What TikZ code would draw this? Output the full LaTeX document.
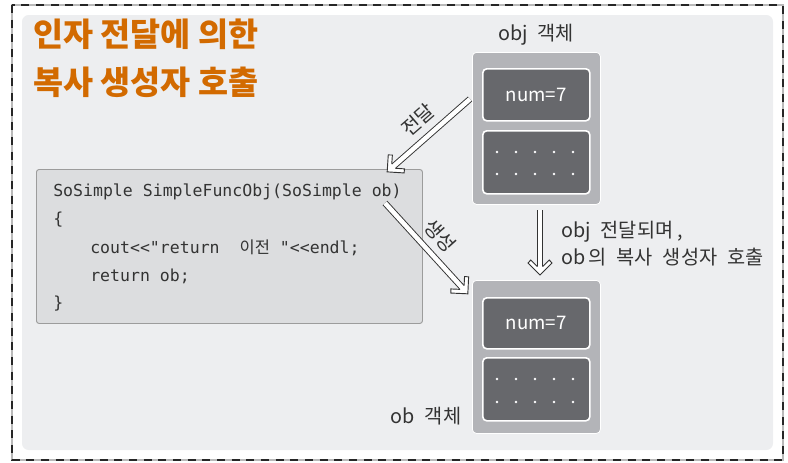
\documentclass[tikz,border=0pt]{standalone}
\usepackage{fontspec}
\setmainfont{Noto Sans CJK KR}
\newfontfamily\codefont{DejaVu Sans Mono}
\newfontfamily\cjk{Noto Sans CJK KR}
\usetikzlibrary{arrows.meta,decorations.markings}
\definecolor{titleor}{HTML}{D26A00}
\definecolor{panelbg}{HTML}{EDEEF0}
\definecolor{boxgray}{HTML}{B3B4B8}
\definecolor{boxdark}{HTML}{67686C}
\definecolor{codebg}{HTML}{DCDDDF}
\definecolor{codeline}{HTML}{9C9C9C}
\definecolor{txt}{HTML}{333333}
\tikzset{
  outerbox/.style={fill=boxgray, draw=white, line width=0.6pt, rounded corners=3pt, anchor=north west,
    minimum width=128*0.75pt, minimum height=152*0.75pt, inner sep=0pt},
  innerbox/.style={fill=boxdark, draw=white, line width=1.2pt, rounded corners=3pt, anchor=north west,
    minimum width=107*0.75pt, inner sep=0pt, text=white, font=\fontsize{14}{16}\selectfont},
  codebox/.style={fill=codebg, draw=codeline, line width=0.7pt, rounded corners=2pt, anchor=north west,
    minimum width=386*0.75pt, minimum height=154*0.75pt, inner sep=0pt},
  codetxt/.style={anchor=west, inner sep=0pt, text=txt, font=\codefont\fontsize{12.4}{14}\selectfont},
  titletxt/.style={anchor=west, inner sep=0pt, text=titleor, font=\bfseries\fontsize{24.5}{27}\selectfont},
  lbl/.style={inner sep=0pt, text=txt, font=\fontsize{14.8}{17}\selectfont},
  hollowshaft/.style={draw=txt, line width=0.7pt, double=white, double distance=3.4pt, shorten >=6pt},
  hollowhead/.style={decoration={markings, mark=at position 1 with {
      \fill[white] (-8.5,2.7) -- (-15,9.2) -- (-12,12) -- (0,0) -- (-12,-12) -- (-15,-9.2) -- (-8.5,-2.7) -- cycle;
      \draw[txt, line width=0.7pt, line join=miter] (-8.5,2.7) -- (-15,9.2) -- (-12,12) -- (0,0) -- (-12,-12) -- (-15,-9.2) -- (-8.5,-2.7);
    }}, decorate},
  dot/.style={fill=white, draw=none},
}
\begin{document}
\begin{tikzpicture}[x=0.75pt,y=-0.75pt]
\useasboundingbox (0,0) rectangle (788,462);
% frame
\draw[gray!55, line width=1pt] (12,5) rectangle (783,460);
\draw[black!85, line width=1.6pt, dash pattern=on 6pt off 5pt] (12,5) rectangle (783,460);
\fill[panelbg, rounded corners=5pt] (22,15) rectangle (773,450);
% title
\node[titletxt] (t1) at (33,34) {인자 전달에 의한};
\node[titletxt] (t2) at (33,82) {복사 생성자 호출};
% obj
\node[lbl] (objlbl) at (536,35) {obj\enspace 객체};
\node[outerbox] (objA) at (472,52) {};
\node[innerbox, minimum height=52*0.75pt] (numA) at (482,68) {num=7};
\node[innerbox, minimum height=63*0.75pt] (dotsA) at (482,130) {};
\foreach \xx in {497,516,535,554,573}{
  \foreach \yy in {152,174}{
    \fill[dot] (\xx,\yy) circle (1.3);
  }
}
% ob
\node[outerbox, minimum height=153*0.75pt] (objB) at (472,280) {};
\node[innerbox, minimum height=51*0.75pt] (numB) at (482,297) {num=7};
\node[innerbox, minimum height=63*0.75pt] (dotsB) at (482,357) {};
\foreach \xx in {497,516,535,554,573}{
  \foreach \yy in {379,402}{
    \fill[dot] (\xx,\yy) circle (1.3);
  }
}
\node[lbl] (oblbl) at (426,416) {ob\enspace 객체};
% code
\node[codebox] (code) at (36,169) {};
\node[codetxt] (c1) at (53,192) {SoSimple SimpleFuncObj(SoSimple ob)};
\node[codetxt] (c2) at (53,220) {\{};
\node[codetxt] (c3) at (90,248) {cout<{}<"return \ {\cjk 이전} "<{}<endl;};
\node[codetxt] (c4) at (90,276) {return ob;};
\node[codetxt] (c5) at (53,304) {\}};
% arrows
\coordinate (a1s) at (470,99);
\coordinate (a1e) at (387,172);
\coordinate (a2s) at (385,203);
\coordinate (a2e) at (468,294);
\coordinate (a3s) at (540,210);
\coordinate (a3e) at (540,275);
\draw[hollowshaft] (a1s) -- (a1e);
\path[hollowhead] (a1s) -- (a1e);
\draw[hollowshaft] (a2s) -- (a2e);
\path[hollowhead] (a2s) -- (a2e);
\draw[hollowshaft] (a3s) -- (a3e);
\path[hollowhead] (a3s) -- (a3e);
\node[lbl, rotate=41] (l1) at (418,120) {전달};
\node[lbl, rotate=-48] (l2) at (440,236) {생성};
\node[lbl, anchor=west] (d1) at (561,232) {obj\enspace 전달되며 ,};
\node[lbl, anchor=west] (d2) at (561,257) {ob\,의\enspace 복사\enspace 생성자\enspace 호출};
\end{tikzpicture}
\end{document}
